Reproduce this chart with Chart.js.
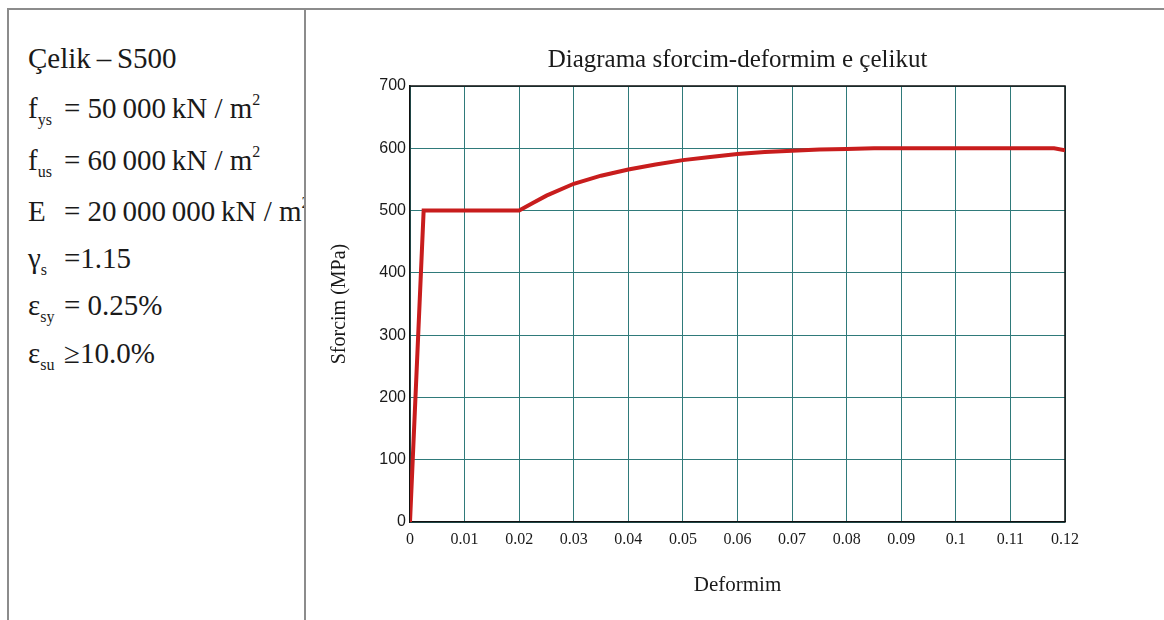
<!DOCTYPE html>
<html>
<head>
<meta charset="utf-8">
<script src="https://cdn.jsdelivr.net/npm/chart.js@4.4.1/dist/chart.umd.min.js"></script>
<style>
    html, body { margin: 0; padding: 0; background: #fff; }
    body {
        width: 1164px; height: 620px; position: relative; overflow: hidden;
        font-family: "Liberation Serif", "Times New Roman", serif; color: #1a1a1a;
    }
    .frame-top { position: absolute; left: 7px; top: 8px; right: 0; border-top: 2px solid #8c8c8c; }
    .frame-left { position: absolute; left: 7px; top: 8px; bottom: 0; border-left: 2px solid #8c8c8c; }
    .divider { position: absolute; left: 304px; top: 8px; bottom: 0; border-left: 2px solid #8c8c8c; }
    #props { position: absolute; left: 9px; top: 10px; width: 295px; bottom: 0; overflow: hidden; }
    .row { position: absolute; left: 19px; white-space: nowrap; font-size: 29px; line-height: 1; }
    .v { display: inline-block; width: 36px; }
    sub { font-size: 16px; vertical-align: -7px; line-height: 0; }
    sup { font-size: 16px; vertical-align: 13px; line-height: 0; }
    #wrap { position: absolute; left: 320px; top: 30px; width: 844px; height: 590px; }
</style>
</head>
<body>
<div class="frame-top"></div>
<div class="frame-left"></div>
<div class="divider"></div>

<div id="props">
    <div class="row" style="top:34px">Çelik&#8201;–&#8201;S500</div>
    <div class="row" style="top:84px"><span class="v">f<sub>ys</sub></span>= 50&#8201;000&#8201;kN / m<sup>2</sup></div>
    <div class="row" style="top:136px"><span class="v">f<sub>us</sub></span>= 60&#8201;000&#8201;kN / m<sup>2</sup></div>
    <div class="row" style="top:187px"><span class="v">E</span>= 20&#8201;000&#8201;000&#8201;kN / m<sup>2</sup></div>
    <div class="row" style="top:234px"><span class="v">γ<sub>s</sub></span>=1.15</div>
    <div class="row" style="top:281px"><span class="v">ε<sub>sy</sub></span>= 0.25%</div>
    <div class="row" style="top:329px"><span class="v">ε<sub>su</sub></span>≥10.0%</div>
</div>

<div id="wrap"><canvas id="stressChart"></canvas></div>

<script>
// Dados
const strain = [0, 0.0025, 0.02, 0.0225, 0.025, 0.03, 0.035, 0.04, 0.045, 0.05, 0.055, 0.06,
                0.065, 0.07, 0.075, 0.08, 0.085, 0.09, 0.1, 0.11, 0.118, 0.12];
const stress = [0, 500, 500, 512, 524, 543, 556, 566, 574, 581, 586, 591,
                594, 596, 598, 599, 600, 600, 600, 600, 600, 597];

const xTicks = [0, 0.01, 0.02, 0.03, 0.04, 0.05, 0.06, 0.07, 0.08, 0.09, 0.1, 0.11, 0.12];
const yTicks = [0, 100, 200, 300, 400, 500, 600, 700];

const gridColor = '#2f7a7a';
const serif = '"Liberation Serif", "Times New Roman", serif';
const narrow = '"Liberation Sans Narrow", "Liberation Sans", Arial, sans-serif';

// moldura de cima e da direita
const framePlugin = {
    id: 'frame',
    beforeDatasetsDraw(chart) {
        const { ctx, chartArea: a } = chart;
        ctx.save();
        ctx.strokeStyle = '#111';
        ctx.lineWidth = 1.5;
        ctx.beginPath();
        ctx.moveTo(a.left, a.top);
        ctx.lineTo(a.right, a.top);
        ctx.lineTo(a.right, a.bottom);
        ctx.stroke();
        ctx.restore();
    }
};

new Chart(document.getElementById('stressChart'), {
    type: 'scatter',
    data: {
        datasets: [{
            data: strain.map((x, i) => ({ x: x, y: stress[i] })),
            showLine: true,
            borderColor: '#c81d1d',
            borderWidth: 4,
            pointRadius: 0,
            tension: 0
        }]
    },
    options: {
        responsive: true,
        maintainAspectRatio: false,
        animation: false,
        layout: { padding: { left: 0, right: 99, top: 0, bottom: 0 } },
        plugins: {
            legend: { display: false },
            tooltip: { enabled: false },
            title: {
                display: true,
                text: 'Diagrama sforcim-deformim e çelikut',
                fullSize: false,
                color: '#1a1a1a',
                font: { family: serif, size: 25, weight: 'normal' },
                padding: { top: 15, bottom: 11 }
            }
        },
        scales: {
            x: {
                type: 'linear',
                min: 0,
                max: 0.12,
                afterBuildTicks: (scale) => { scale.ticks = xTicks.map(v => ({ value: v })); },
                afterFit: (scale) => { scale.height = 98; },
                ticks: {
                    color: '#1a1a1a',
                    padding: 8,
                    maxRotation: 0,
                    font: { family: serif, size: 16 },
                    callback: (v) => String(+v.toFixed(2))
                },
                grid: { color: gridColor, lineWidth: 1, drawTicks: false },
                border: { display: true, color: '#111', width: 1.5 },
                title: {
                    display: true,
                    text: 'Deformim',
                    color: '#1a1a1a',
                    font: { family: serif, size: 21 },
                    padding: { top: 0, bottom: 22 }
                }
            },
            y: {
                min: 0,
                max: 700,
                afterBuildTicks: (scale) => { scale.ticks = yTicks.map(v => ({ value: v })); },
                afterFit: (scale) => { scale.width = 90; },
                ticks: {
                    color: '#1a1a1a',
                    padding: 4,
                    font: { family: narrow, size: 16 }
                },
                grid: { color: gridColor, lineWidth: 1, drawTicks: false },
                border: { display: true, color: '#111', width: 1.5 },
                title: {
                    display: true,
                    text: 'Sforcim (MPa)',
                    color: '#1a1a1a',
                    font: { family: serif, size: 20 },
                    padding: { top: 8, bottom: 0 }
                }
            }
        }
    },
    plugins: [framePlugin]
});
</script>
</body>
</html>
